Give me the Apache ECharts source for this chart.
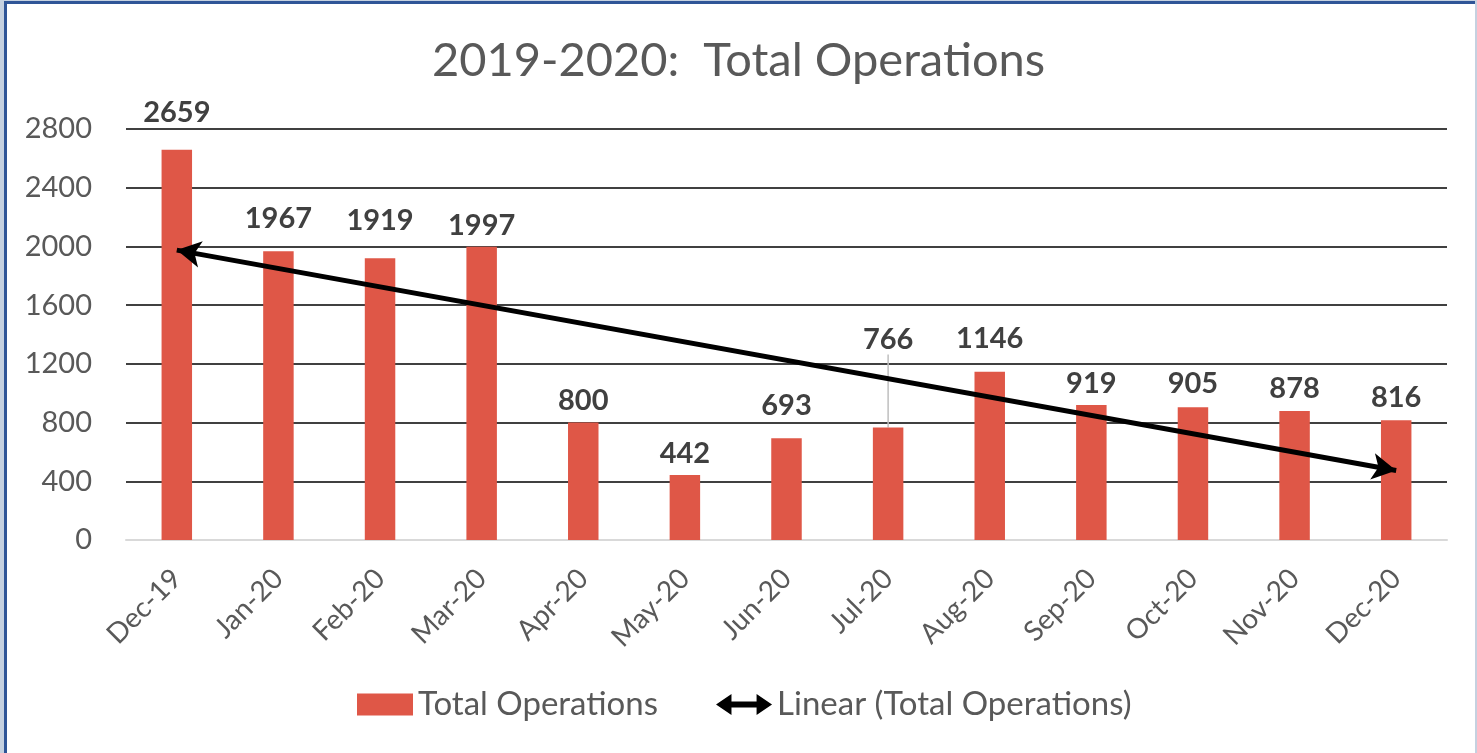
<!DOCTYPE html>
<html>
<head>
<meta charset="utf-8">
<title>2019-2020: Total Operations</title>
<script src="https://cdn.jsdelivr.net/npm/echarts@6/dist/echarts.min.js"></script>
<style>
  html, body { margin: 0; padding: 0; background: #c5d1e0; }
  #frame {
    position: absolute; left: 4px; top: 1px;
    width: 1468px; height: 752px;
    border-top: 3px solid #2f5597; border-left: 3px solid #2f5597;
    background: #fff;
  }
  #chart { position: absolute; left: -7px; top: -4px; width: 1477px; height: 753px; }
</style>
</head>
<body>
<div id="frame"><div id="chart"></div></div>
<script>
// data
const months = ["Dec-19", "Jan-20", "Feb-20", "Mar-20", "Apr-20", "May-20", "Jun-20",
  "Jul-20", "Aug-20", "Sep-20", "Oct-20", "Nov-20", "Dec-20"];
const totalOperations = [2659, 1967, 1919, 1997, 800, 442, 693, 766, 1146, 919, 905, 878, 816];
// linear trend end points (first and last month)
const trendEnds = [1975, 473];
const yTicks = { min: 0, max: 2800, step: 400 };

const FONT = "Lato";
const GREY = "#595959";
const BAR = "#df5747";

// extra lift of some value labels, as Excel placed them
const labelNudge = [16, 11, 16, 0, 0, 0, 11, 66, 12, 0, 2, 1, 1];

const chart = echarts.init(document.getElementById("chart"));

chart.setOption({
  animation: false,
  textStyle: { fontFamily: FONT },
  title: {
    text: "2019-2020:  Total Operations",
    left: "center",
    top: 32,
    textStyle: { fontFamily: FONT, fontSize: 47, fontWeight: "normal", color: GREY }
  },
  legend: {
    bottom: 27,
    left: 352,
    itemGap: 58,
    itemWidth: 56,
    itemHeight: 22,
    textStyle: { fontFamily: FONT, fontSize: 33, color: GREY },
    data: [
      { name: "Total Operations", icon: "rect" },
      {
        name: "Linear (Total Operations)",
        icon: "path://M0,11 L16,0 L16,8 L42,8 L42,0 L58,11 L42,22 L42,14 L16,14 L16,22 Z",
        itemStyle: { color: "#000" }
      }
    ]
  },
  grid: { left: 126, right: 30, top: 129, bottom: 213 },
  xAxis: {
    type: "category",
    data: months,
    axisLine: { lineStyle: { color: "#d9d9d9", width: 2 } },
    axisTick: { show: false },
    axisLabel: {
      rotate: 45,
      margin: 34,
      fontFamily: FONT,
      fontSize: 28,
      color: GREY
    }
  },
  yAxis: {
    type: "value",
    min: yTicks.min,
    max: yTicks.max,
    interval: yTicks.step,
    axisLine: { show: false },
    axisTick: { show: false },
    axisLabel: {
      margin: 34,
      fontFamily: FONT,
      fontSize: 29,
      color: GREY,
      formatter: (v) => String(v)
    },
    splitLine: {
      lineStyle: { color: "#000", width: 1.5 },
      showMinLine: false
    }
  },
  series: [
    {
      name: "Total Operations",
      type: "bar",
      barWidth: "30%",
      itemStyle: { color: BAR },
      data: totalOperations.map((v, i) =>
        labelNudge[i] > 30 ? { value: v, labelLine: { show: true } } : v),
      label: {
        show: true,
        position: "top",
        distance: 7,
        fontFamily: FONT,
        fontSize: 29,
        fontWeight: "bold",
        color: "#404040"
      },
      labelLine: { show: false, lineStyle: { color: "#bfbfbf", width: 1.5 } },
      labelLayout: (p) => ({ dy: -labelNudge[p.dataIndex] })
    },
    {
      name: "Linear (Total Operations)",
      type: "line",
      data: [],
      itemStyle: { color: "#000" },
      lineStyle: { color: "#000", width: 5 },
      markLine: {
        silent: true,
        symbol: ["arrow", "arrow"],
        symbolSize: [20, 24],
        label: { show: false },
        lineStyle: { color: "#000", width: 5, type: "solid" },
        data: [[
          { coord: [0, trendEnds[0]] },
          { coord: [months.length - 1, trendEnds[1]] }
        ]]
      }
    }
  ]
});
</script>
</body>
</html>
